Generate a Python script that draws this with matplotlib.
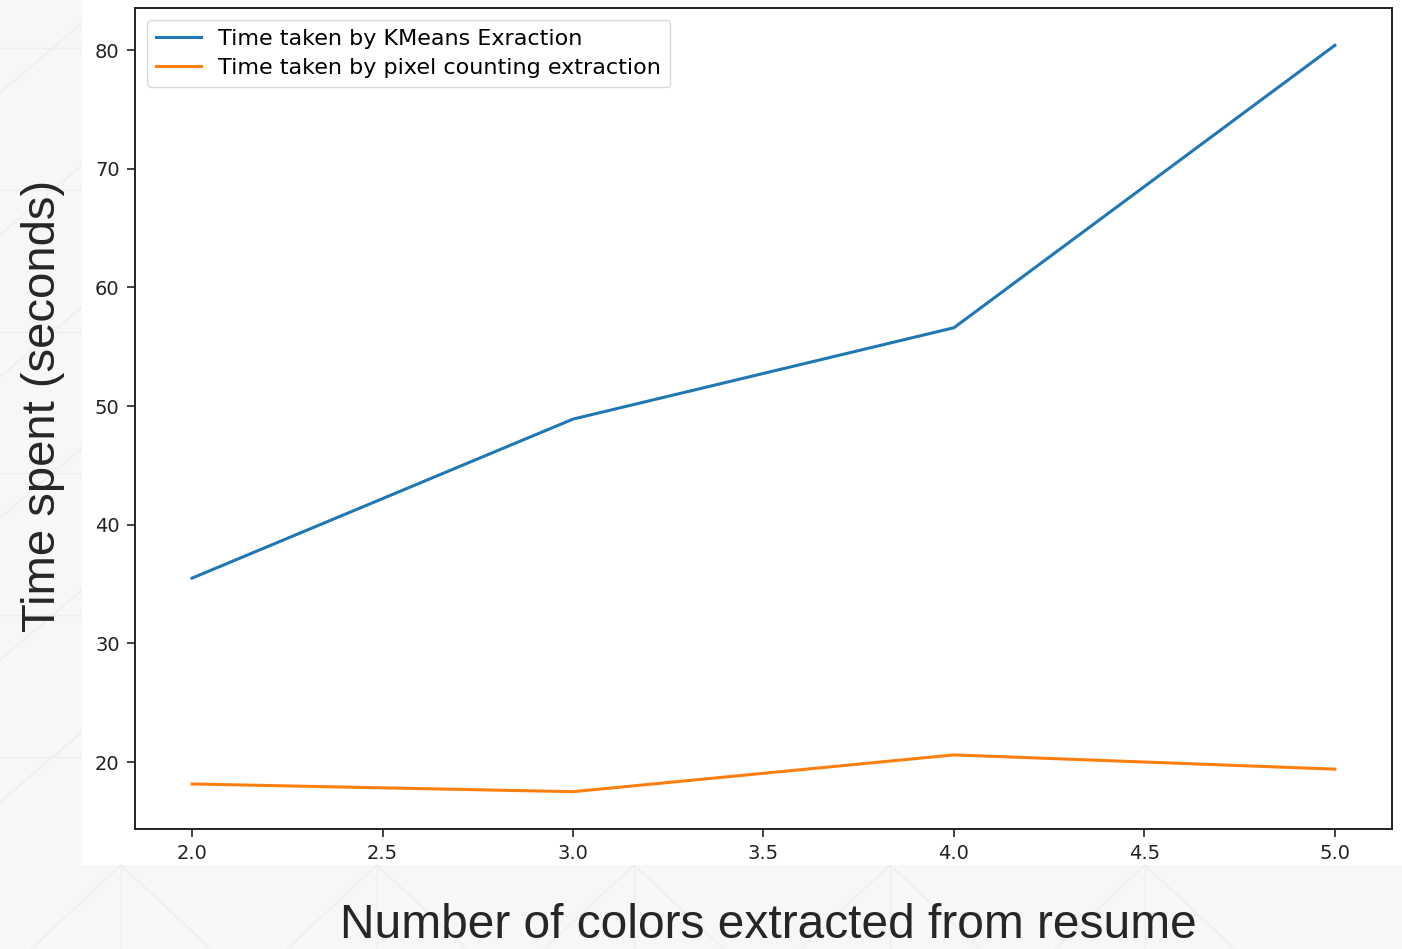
import numpy as np
import matplotlib
matplotlib.use("Agg")
import matplotlib.pyplot as plt
from matplotlib.patches import Rectangle

# number of colors extracted
n_colors = [2.0, 3.0, 4.0, 5.0]
# time in seconds
kmeans_time = [35.5, 48.9, 56.6, 80.4]
pixel_time = [18.15, 17.5, 20.6, 19.4]

W, H = 1402, 949
fig = plt.figure(figsize=(W / 100, H / 100), dpi=100)
fig.patch.set_facecolor("#f7f7f7")

def fline(xs, ys):
    # faint slide background line, pixel coords from the top left
    fig.add_artist(plt.Line2D([x / W for x in xs], [1 - y / H for y in ys], transform=fig.transFigure,
                              color="#eeeeee", lw=1, zorder=-2))

for xv in [121, 377, 634, 890, 1145]:
    fline([xv, xv], [865, H])
    fline([xv, xv - 90], [865, H])
    fline([xv, xv + 90], [865, H])
for yh in [48, 190, 332, 473, 615, 757]:
    fline([0, 82], [yh, yh])
    fline([0, 82], [yh + 45, yh - 25])

# white area of the pasted chart image
fig.add_artist(Rectangle((82 / W, 84 / H), 1 - 82 / W, 1 - 84 / H,
                         transform=fig.transFigure, facecolor="white", edgecolor="none", zorder=-1))

ax = fig.add_axes([135 / W, 120 / H, 1257 / W, 821 / H])
ax.set_zorder(1)
ax.plot(n_colors, kmeans_time, color="#1f77b4", lw=2.2, label="Time taken by KMeans Exraction")
ax.plot(n_colors, pixel_time, color="#ff7f0e", lw=2.2, label="Time taken by pixel counting extraction")

ax.set_xticks([2.0, 2.5, 3.0, 3.5, 4.0, 4.5, 5.0])
ax.set_yticks([20, 30, 40, 50, 60, 70, 80])
ax.tick_params(labelsize=14, length=6, width=1.2, colors="#222222", pad=5)
for s in ax.spines.values():
    s.set_linewidth(1.4)
    s.set_color("#222222")

leg = ax.legend(loc="upper left", fontsize=16, frameon=True, borderaxespad=0.55,
                labelspacing=0.4, handlelength=2.0)
leg.get_frame().set_edgecolor("#d0d0d0")

fig.text(768 / W, 24 / H, "Number of colors extracted from resume", family="Liberation Sans",
         fontsize=34.5, color="#262626", ha="center", va="center")
fig.text(43 / W, 1 - 406 / H, "Time spent (seconds)", family="Liberation Sans",
         fontsize=34, color="#262626", ha="center", va="center", rotation=90)

fig.savefig("out.png", dpi=100, facecolor=fig.get_facecolor())
